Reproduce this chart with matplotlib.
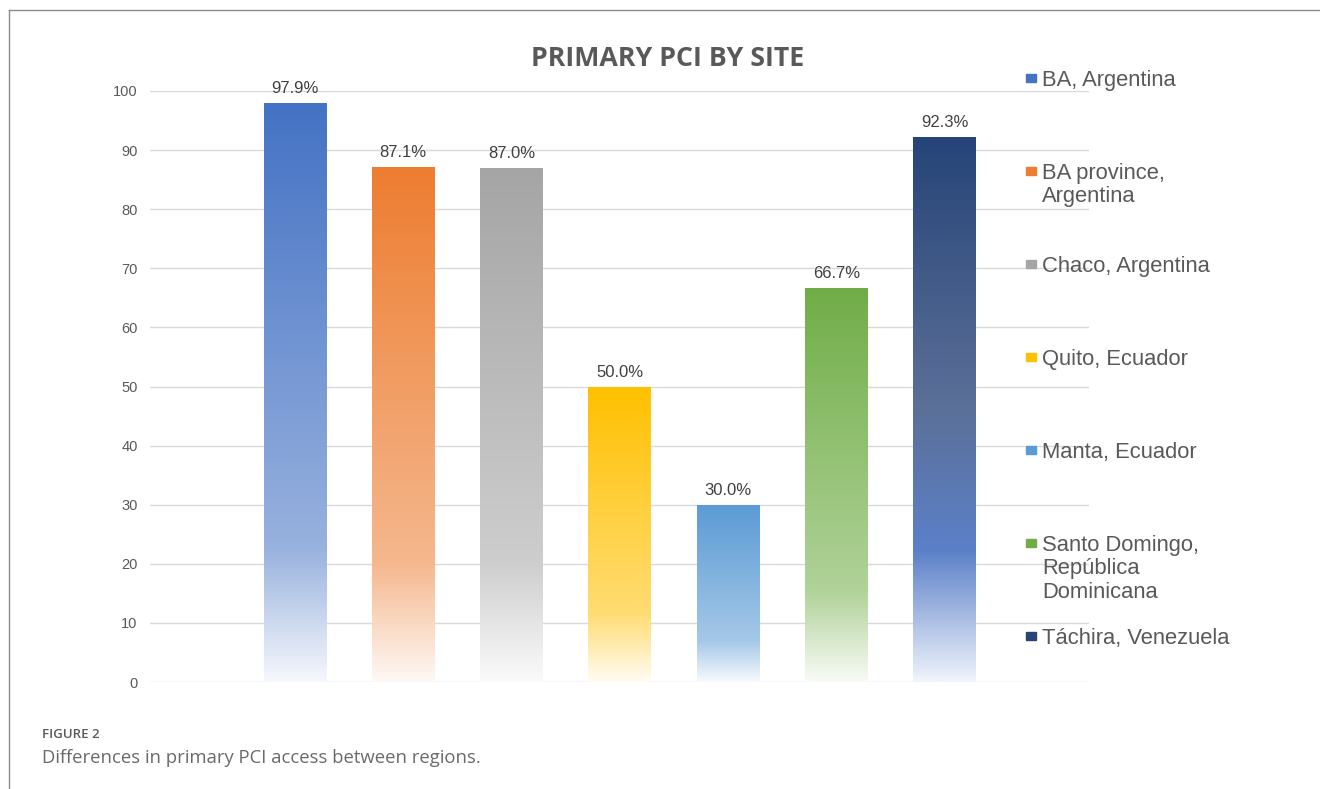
import numpy as np
import matplotlib
matplotlib.use("Agg")
import matplotlib.pyplot as plt
from matplotlib.patches import Rectangle
from matplotlib.lines import Line2D

# data
sites = ["BA, Argentina", "BA province,\nArgentina", "Chaco, Argentina",
         "Quito, Ecuador", "Manta, Ecuador",
         "Santo Domingo,\nRepública\nDominicana", "Táchira, Venezuela"]
pci_pct = [97.9, 87.1, 87.0, 50.0, 30.0, 66.7, 92.3]
value_labels = ["97.9%", "87.1%", "87.0%", "50.0%", "30.0%", "66.7%", "92.3%"]

# gradient stops per bar: (position from bottom, rgb)
def tint(rgb, f):
    return tuple(c + (255 - c) * f for c in rgb)

base_colors = [(68, 114, 196), (237, 125, 49), (165, 165, 165), (255, 192, 0),
               (91, 155, 213), (112, 173, 71), (38, 68, 120)]
stops = []
for rgb in base_colors[:-1]:
    stops.append([(0.0, tint(rgb, 0.95)), (0.23, tint(rgb, 0.45)), (1.0, rgb)])
stops.append([(0.0, (240, 244, 252)), (0.24, (91, 128, 200)),
              (0.5, (92, 112, 152)), (1.0, (38, 68, 120))])


def gradient_img(st, n=256):
    t = np.linspace(0, 1, n)
    pos = [s[0] for s in st]
    img = np.zeros((n, 1, 3))
    for ch in range(3):
        img[:, 0, ch] = np.interp(t, pos, [s[1][ch] for s in st]) / 255.0
    return img


W, H = 1320, 789
fig = plt.figure(figsize=(W / 100, H / 100), dpi=100)
fig.patch.set_facecolor("white")

ax = fig.add_axes([150 / W, 1 - 682 / H, (1089 - 150) / W, (682 - 91) / H])
x = np.arange(len(sites))
bw = 0.58
bars = ax.bar(x, pci_pct, width=bw, color="none", zorder=2)
for b, st, lab in zip(bars, stops, value_labels):
    x0, h = b.get_x(), b.get_height()
    im = ax.imshow(gradient_img(st), origin="lower", aspect="auto",
                   extent=[x0, x0 + b.get_width(), 0, h], zorder=2)
    im.set_clip_path(b)
    ax.annotate(lab, (x0 + b.get_width() / 2, h), xytext=(0, 5),
                textcoords="offset points", ha="center", va="bottom",
                fontsize=12, color="#404040", family="Liberation Sans",
                zorder=3)

ax.set_xlim((150 - 295) / 108.25, (1089 - 295) / 108.25)
ax.set_ylim(0, 100)
ax.set_yticks(range(0, 101, 10))
ax.set_xticks([])
ax.grid(axis="y", color="#D9D9D9", lw=1, zorder=0)
ax.set_axisbelow(True)
for s in ax.spines.values():
    s.set_visible(False)
ax.tick_params(axis="y", length=0, pad=9, labelsize=10.5, labelcolor="#595959")
for t in ax.get_yticklabels():
    t.set_family("Liberation Sans")

fig.text(668 / W, 1 - 59 / H, "PRIMARY PCI BY SITE", ha="center", va="center",
         fontsize=19.3, fontweight="bold", color="#595959", family="Open Sans")

# legend, Excel style slots
for i, (name, rgb) in enumerate(zip(sites, base_colors)):
    yc = 78 + 93 * i
    fig.patches.append(Rectangle((1026 / W, 1 - (yc + 4) / H), 10 / W, 8 / H,
                                 transform=fig.transFigure,
                                 color=tuple(c / 255 for c in rgb)))
    fig.text(1042 / W, 1 - (yc - 8) / H, name, ha="left", va="top",
             fontsize=15.8, color="#595959", family="Liberation Sans",
             linespacing=1.15)

# caption and frame
fig.text(42 / W, 1 - 735 / H, "FIGURE 2", ha="left", va="center",
         fontsize=9.5, color="#5a5a5a", family="Open Sans", fontweight="semibold")
fig.text(42 / W, 1 - 758 / H, "Differences in primary PCI access between regions.",
         ha="left", va="center", fontsize=13.3, color="#6a6a6a", family="Open Sans")
fig.lines.append(Line2D([9 / W, 9 / W], [0, 1 - 10 / H], transform=fig.transFigure,
                        color="#8a8a8a", lw=1))
fig.lines.append(Line2D([9 / W, 1], [1 - 10 / H, 1 - 10 / H], transform=fig.transFigure,
                        color="#8a8a8a", lw=1))

fig.savefig("out.png", dpi=100)
